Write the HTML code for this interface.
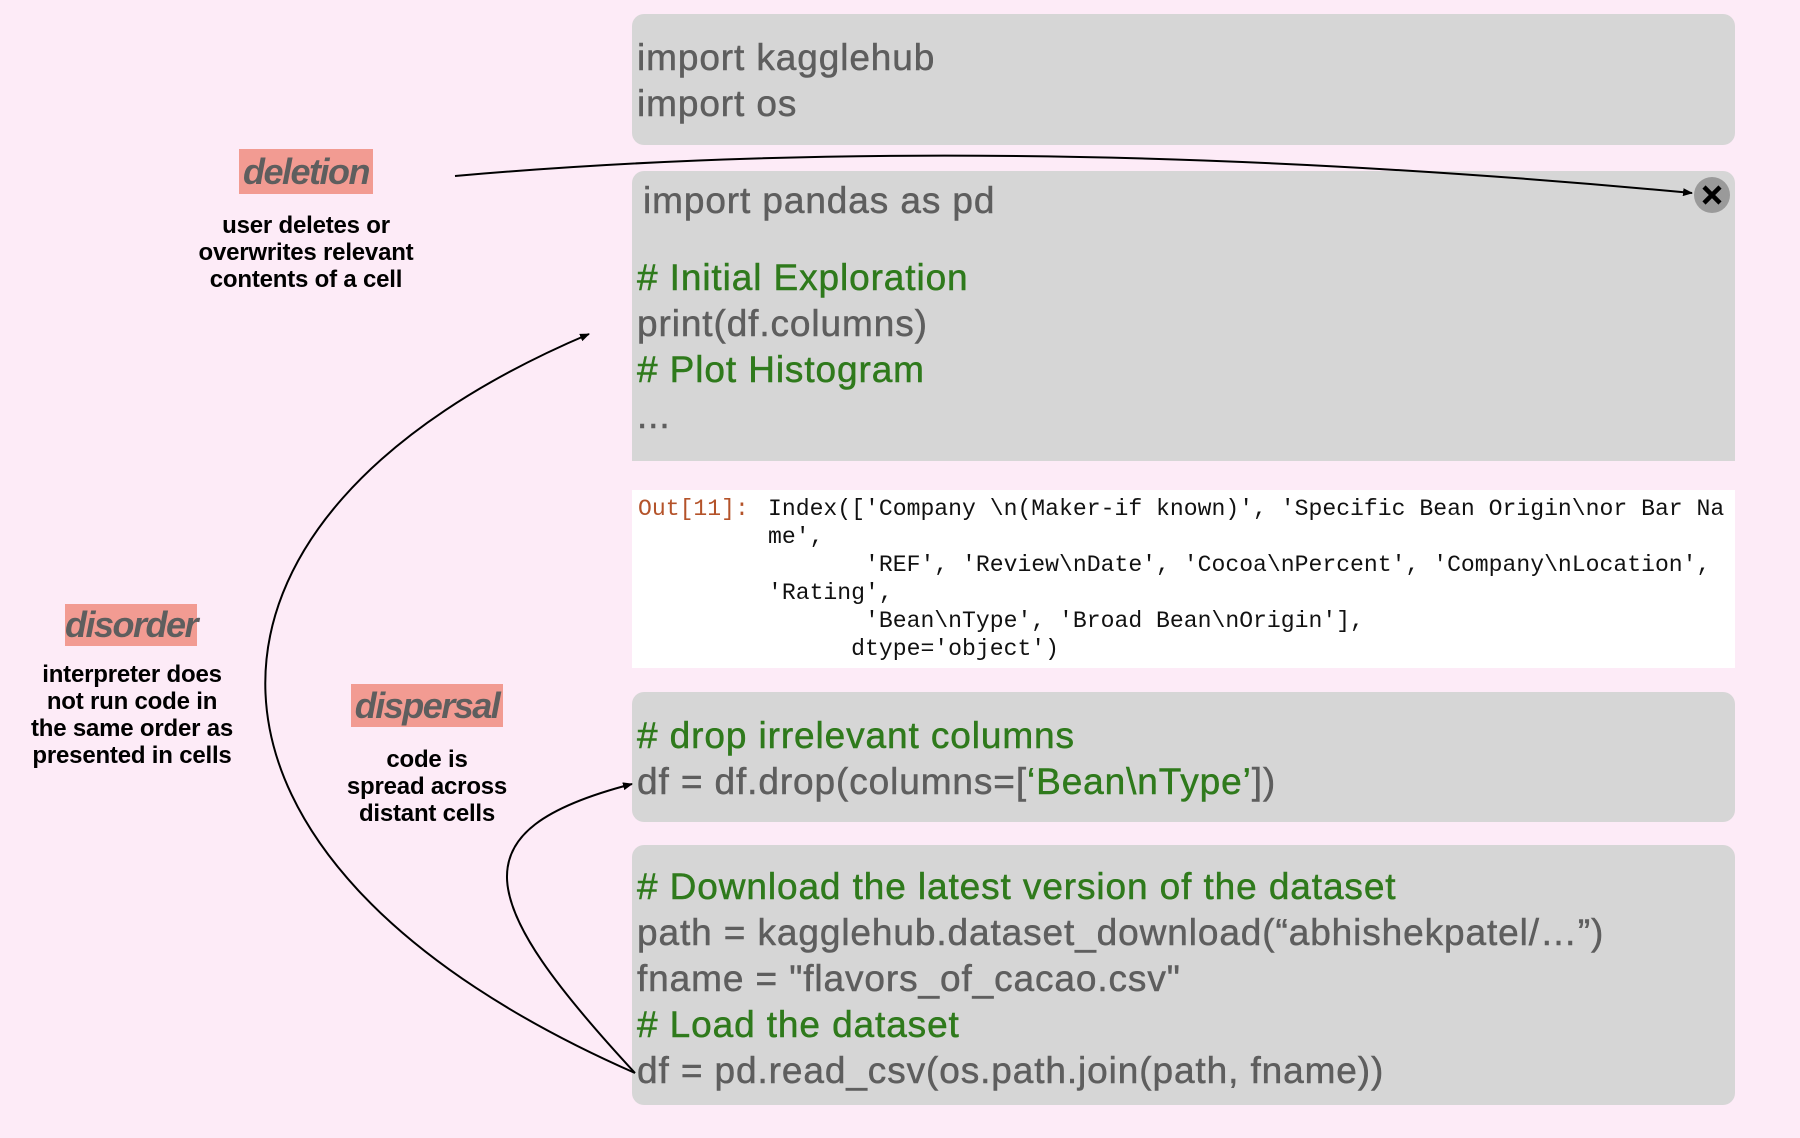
<!DOCTYPE html>
<html><head><meta charset="utf-8"><style>
body{margin:0;width:1800px;height:1138px;background:#fdebf7;position:relative;overflow:hidden;font-family:"Liberation Sans",sans-serif}
.box{position:absolute;left:632px;width:1103px;background:#d6d6d6;border-radius:12px}
.c{position:absolute;left:637px;font-size:37px;letter-spacing:0.9px;line-height:46px;color:#5e5e5e;white-space:pre;-webkit-text-stroke:0.5px currentColor}
.g{color:#2f7a1c}
.lab{position:absolute;background:#f29b92;color:#5e5e5e;font-style:italic;font-weight:bold;font-size:36px;text-align:center;letter-spacing:-1.5px}
.d{position:absolute;font-weight:bold;font-size:24px;line-height:27px;text-align:center;color:#000;letter-spacing:-0.2px}
.out{position:absolute;left:632px;top:490px;width:1103px;height:178px;background:#fff}
.m{position:absolute;font-family:"Liberation Mono",monospace;font-size:23.1px;line-height:27.9px;white-space:pre;color:#111}
</style></head><body>
<div class="box" style="top:14px;height:131px"></div>
<div class="box" style="top:171px;height:290px;border-radius:12px 12px 0 0"></div>
<div class="out"></div>
<div class="box" style="top:692px;height:130px"></div>
<div class="box" style="top:845px;height:260px"></div>

<div class="c" style="top:35px">import kagglehub
import os</div>
<div class="c" style="top:178px;left:643px">import pandas as pd</div>
<div class="c" style="top:255px"><span class="g"># Initial Exploration</span>
print(df.columns)
<span class="g"># Plot Histogram</span>
...</div>
<div class="m" style="left:638px;top:496px;color:#b4532a">Out[11]:</div>
<div class="m" style="left:768px;top:496px">Index(['Company \n(Maker-if known)', 'Specific Bean Origin\nor Bar Na
me',
       'REF', 'Review\nDate', 'Cocoa\nPercent', 'Company\nLocation',
'Rating',
       'Bean\nType', 'Broad Bean\nOrigin'],
      dtype='object')</div>
<div class="c" style="top:713px"><span class="g"># drop irrelevant columns</span>
df = df.drop(columns=[<span class="g">‘Bean\nType’</span>])</div>
<div class="c" style="top:864px"><span class="g"># Download the latest version of the dataset</span>
path = kagglehub.dataset_download(“abhishekpatel/…”)
fname = "flavors_of_cacao.csv"
<span class="g"># Load the dataset</span>
df = pd.read_csv(os.path.join(path, fname))</div>

<div class="lab" style="left:239px;top:149px;width:134px;height:45px;line-height:45px">deletion</div>
<div class="d" style="left:156px;top:212px;width:300px">user deletes or<br>overwrites relevant<br>contents of a cell</div>
<div class="lab" style="left:65px;top:604px;width:132px;height:42px;line-height:42px">disorder</div>
<div class="d" style="left:-18px;top:661px;width:300px">interpreter does<br>not run code in<br>the same order as<br>presented in cells</div>
<div class="lab" style="left:351px;top:684px;width:152px;height:43px;line-height:43px">dispersal</div>
<div class="d" style="left:277px;top:746px;width:300px">code is<br>spread across<br>distant cells</div>

<svg width="1800" height="1138" style="position:absolute;left:0;top:0">
<defs><marker id="a" markerWidth="10" markerHeight="8" refX="9" refY="4" orient="auto" markerUnits="userSpaceOnUse"><path d="M0,0L10,4L0,8z" fill="#000"/></marker></defs>
<g fill="none" stroke="#000" stroke-width="2">
<path d="M455,176 Q1000,128 1692,193" marker-end="url(#a)"/>
<path d="M635,1073 C150,860 150,520 589,334" marker-end="url(#a)"/>
<path d="M635,1073 C475,900 455,830 632,784" marker-end="url(#a)"/>
</g>
<circle cx="1712" cy="195" r="18" fill="#9a9a9a"/>
<path d="M1704,187L1720,203M1720,187L1704,203" stroke="#000" stroke-width="4.5"/>
</svg>
</body></html>
